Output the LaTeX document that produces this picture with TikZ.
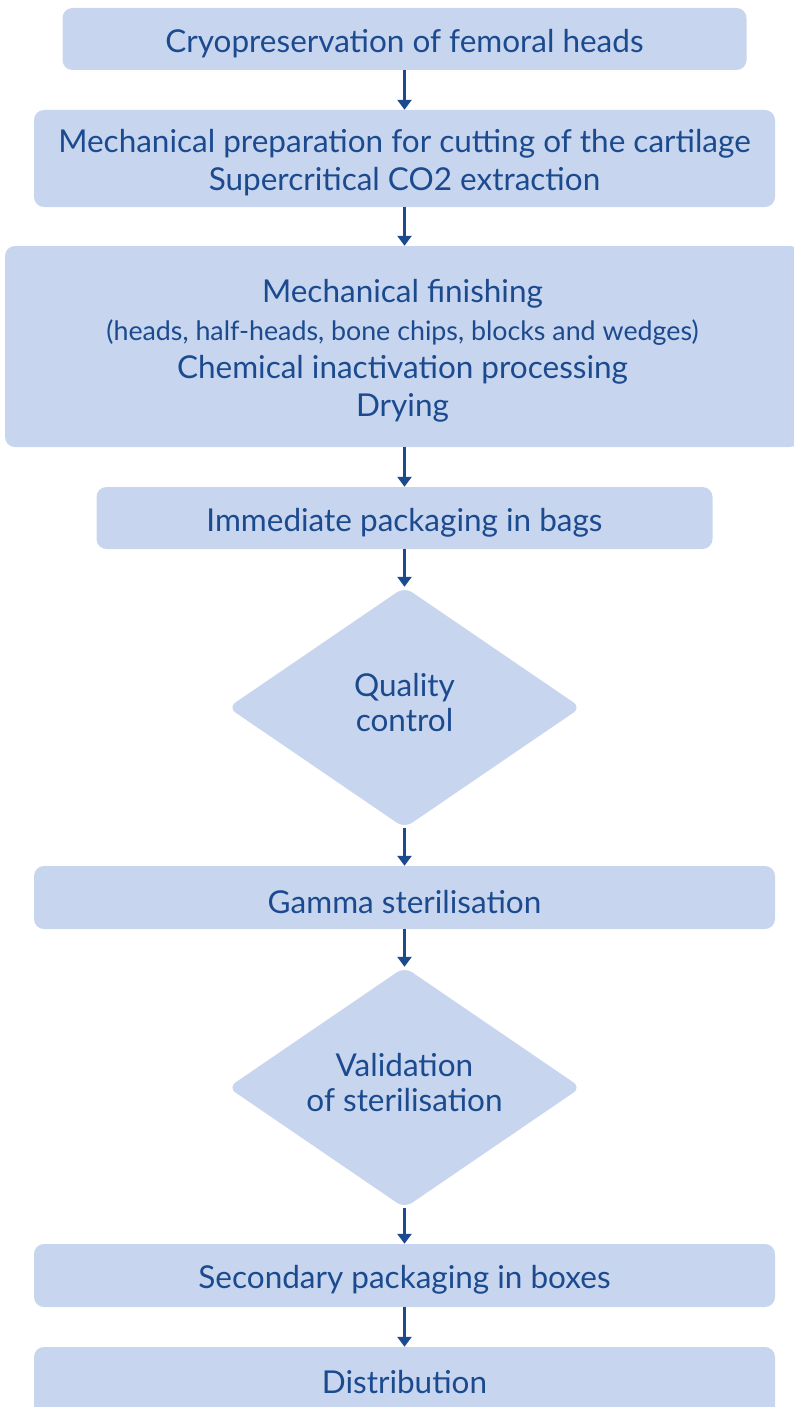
\documentclass[tikz,border=0pt]{standalone}
\usepackage{fontspec}
\setmainfont{Lato}
\usetikzlibrary{arrows.meta,shapes.geometric}
\definecolor{boxfill}{RGB}{199,213,238}
\definecolor{ink}{RGB}{27,74,143}
\tikzset{
  stepbox/.style={fill=boxfill, rounded corners=10pt, inner sep=0pt},
  steptext/.style={text=ink, align=center, inner sep=0pt, yshift=-4.5pt,
    font=\fontsize{31.5}{38}\selectfont},
  decision/.style={diamond, aspect=1.5, fill=boxfill, rounded corners=9pt, inner sep=0pt,
    minimum width=353pt, minimum height=241pt},
  dectext/.style={text=ink, align=center, inner sep=0pt, yshift=4.5pt,
    font=\fontsize{31.5}{35}\selectfont},
  flow/.style={draw=ink, line width=2.4pt, -{Triangle[width=14pt,length=10pt]}},
}
\begin{document}
\begin{tikzpicture}[x=1pt,y=-1pt]
\useasboundingbox (0,0) rectangle (794,1407);
\begin{scope}
\clip (0,0) rectangle (794,1407);
\node[stepbox, minimum width=684pt, minimum height=62pt,
  label={[steptext]center:Cryopreservation of femoral heads}] (b1) at (404.5,39) {};
\node[stepbox, minimum width=741pt, minimum height=97pt,
  label={[steptext]center:Mechanical preparation for cutting of the cartilage\\Supercritical CO2 extraction}] (b2) at (404.5,158.5) {};
\node[stepbox, minimum width=795pt, minimum height=201pt,
  label={[steptext]center:Mechanical finishing\\{\fontsize{26.8}{38}\selectfont (heads, half-heads, bone chips, blocks and wedges)}\\Chemical inactivation processing\\Drying}] (b3) at (402.5,346.5) {};
\node[stepbox, minimum width=616pt, minimum height=62pt,
  label={[steptext]center:Immediate packaging in bags}] (b4) at (404.5,518) {};
\node[decision, label={[dectext]center:Quality\\control}] (d1) at (404.5,707.5) {};
\node[stepbox, minimum width=741pt, minimum height=63pt,
  label={[steptext]center:Gamma sterilisation}] (b5) at (404.5,897.5) {};
\node[decision, label={[dectext]center:Validation\\of sterilisation}] (d2) at (404.5,1087.5) {};
\node[stepbox, minimum width=741pt, minimum height=63pt,
  label={[steptext]center:Secondary packaging in boxes}] (b6) at (404.5,1275.5) {};
\node[stepbox, minimum width=741pt, minimum height=70pt,
  label={[steptext, yshift=4pt]center:Distribution}] (b7) at (404.5,1382) {};
\end{scope}
\draw[flow] (b1.south) -- (b2.north);
\draw[flow] (b2.south) -- (b2.south |- b3.north);
\draw[flow] (b2.south |- b3.south) -- (b4.north);
\draw[flow] (b4.south) -- (d1.north);
\draw[flow] (d1.south) -- (b5.north);
\draw[flow] (b5.south) -- (d2.north);
\draw[flow] (d2.south) -- (b6.north);
\draw[flow] (b6.south) -- (b7.north);
\end{tikzpicture}
\end{document}
